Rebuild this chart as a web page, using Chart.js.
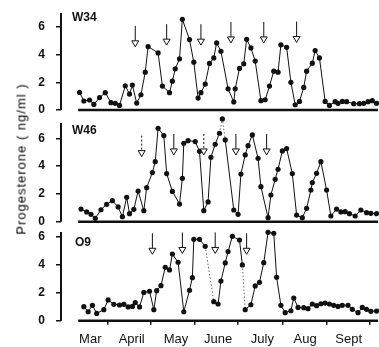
<!DOCTYPE html>
<html>
<head>
<meta charset="utf-8">
<script src="https://cdn.jsdelivr.net/npm/chart.js@4.4.1/dist/chart.umd.min.js"></script>
<style>
  body { margin: 0; background: #fff; }
  #wrap { position: relative; width: 379px; height: 347px; overflow: hidden; }
  canvas { position: absolute; left: 0; }
  #ytitle {
    position: absolute; left: 21px; top: 159px;
    transform: translate(-50%, -50%) rotate(-90deg);
    font: 13px 'Liberation Sans', Arial, sans-serif; letter-spacing: 1px;
    white-space: nowrap; color: #000;
  }
</style>
</head>
<body>
<div id="wrap">
  <canvas id="c_w34" width="379" height="114" style="top:0"></canvas>
  <canvas id="c_w46" width="379" height="112" style="top:114px"></canvas>
  <canvas id="c_o9"  width="379" height="121" style="top:226px"></canvas>
  <div id="ytitle">Progesterone ( ng/ml )</div>
</div>
<script>
// ── datos (x = días desde 1 de marzo) ─────────────────
const W34_DAY = [11,14,18,21,25,29,33,36,39,43,46,48,51,54,57,59,66,69,74,76,78,81,83,88,91,94,96,99,102,105,107,110,115,119,120,123,126,128,131,134,138,141,144,147,150,152,156,159,162,165,168,170,174,176,179,183,186,190,192,195,198,203,207,210,213,216,219];
const W34_P4  = [1.27,0.65,0.72,0.4,0.9,1.25,0.53,0.48,0.33,1.75,1.15,1.8,0.5,1.1,2.73,4.58,4.12,1.73,1.25,2.08,2.97,3.69,6.55,5.08,3.45,0.86,1.25,1.87,3.36,3.76,4.84,4.24,1.53,0.58,1.53,3.0,3.33,5.1,4.48,3.53,0.67,0.74,1.73,2.8,2.73,4.7,4.53,2.0,0.38,0.62,1.63,2.8,3.38,4.29,3.76,0.62,0.33,0.6,0.48,0.62,0.6,0.46,0.46,0.48,0.6,0.67,0.48];
const W34_ARROW_DAY = [50,72,96,117,140,163];
const W34_ARROW_TIP = [4.56,4.68,4.68,4.84,4.84,4.87];

const W46_DAY = [12,16,19,22,26,30,34,38,41,44,46,49,52,56,58,62,64,66,70,72,76,81,83,84,87,92,95,98,101,103,106,109,111,113,119,122,124,127,129,132,136,138,143,145,148,150,153,156,160,163,167,170,173,174,177,180,184,187,191,194,197,200,204,208,212,215,219];
const W46_P4  = [0.91,0.7,0.53,0.24,0.86,1.25,1.51,1.06,0.36,1.75,0.58,0.89,2.2,0.79,2.45,3.53,4.32,6.72,6.19,3.46,2.18,1.27,3.12,5.64,5.83,5.76,5.06,0.79,1.42,4.63,5.57,6.36,7.39,5.88,0.84,0.53,3.43,4.8,5.47,6.24,4.56,2.52,0.29,1.92,3.05,3.77,5.09,5.26,3.46,0.48,0.29,0.96,2.28,2.81,3.48,4.32,2.28,0.41,0.91,0.7,0.72,0.58,0.41,0.84,0.65,0.6,0.58];
const W46_DASHED = [31,32];
const W46_ARROW_DAY = [54.5,77,98,120.5,142];
const W46_ARROW_TIP = [4.68,4.8,4.8,4.8,4.8];
const W46_ARROW_DOTTED = [0,2];

const O9_DAY = [14,17,20,23,28,31,35,39,42,45,48,50,53,56,60,63,65,68,71,74,76,80,84,88,90,91,95,99,105,108,110,113,115,118,123,125,127,131,134,137,140,143,147,149,152,155,159,161,164,168,171,174,177,180,183,186,189,192,195,199,202,206,209,212,215,219];
const O9_P4  = [1.0,0.64,1.1,0.52,0.79,1.48,1.17,1.12,1.17,0.98,1.02,1.29,0.98,2.02,2.1,0.79,2.14,2.5,3.81,3.62,4.76,4.17,0.64,2.17,3.07,5.81,5.81,5.31,1.36,1.19,2.83,4.12,4.93,6.02,5.76,3.98,0.79,1.14,2.48,2.74,4.14,6.31,6.24,3.1,1.1,0.57,0.71,1.62,0.95,0.93,0.86,1.19,1.07,1.21,1.26,1.19,1.1,1.02,1.1,1.1,0.81,0.57,0.95,0.81,0.67,0.69];
const O9_DASHED = [27,35];
const O9_ARROW_DAY = [62,83,106,128];
const O9_ARROW_TIP = [4.74,4.8,4.8,4.74];

const MONTHS      = ['Mar','April','May','June','July','Aug','Sept'];
const MONTH_MIDS  = [18.5,47.5,78.5,108,139,169,199.5];
const MONTH_EDGES = [31,61,92,122,153,184,214];
const Y_TICKS     = [0,2,4,6];

const INK = '#111';
const FONT = "'Liberation Sans', Arial, sans-serif";
const AXIS_START = 10;   // la línea base empieza un poco a la derecha del eje y

// ── plugins ──────────────────────────────────────────
// ejes dibujados a mano: el eje y hasta axisTop, la base desde AXIS_START
const axes = {
  id: 'axes',
  beforeDatasetsDraw(chart, args, o) {
    const {ctx, chartArea, scales: {x, y}} = chart;
    const y0 = y.getPixelForValue(0);
    ctx.save();
    ctx.strokeStyle = INK;
    ctx.lineWidth = 2;
    ctx.beginPath();
    ctx.moveTo(chartArea.left, y0);
    ctx.lineTo(chartArea.left, y.getPixelForValue(o.top));
    ctx.stroke();
    ctx.lineWidth = 2.5;
    ctx.beginPath();
    ctx.moveTo(x.getPixelForValue(AXIS_START), y0);
    ctx.lineTo(chartArea.right, y0);
    ctx.stroke();
    ctx.restore();
  },
};

const arrows = {
  id: 'arrows',
  afterDatasetsDraw(chart, args, o) {
    const {ctx, scales: {x, y}} = chart;
    ctx.save();
    ctx.strokeStyle = INK;
    ctx.lineWidth = 1;
    o.days.forEach((d, i) => {
      const px = x.getPixelForValue(d);
      const tip = y.getPixelForValue(o.tips[i]);
      const head = tip - 6;
      ctx.setLineDash((o.dotted || []).includes(i) ? [2, 2] : []);
      ctx.beginPath();
      ctx.moveTo(px, head - 15);
      ctx.lineTo(px, head);
      ctx.stroke();
      ctx.setLineDash([]);
      ctx.beginPath();
      ctx.moveTo(px - 3.5, head);
      ctx.lineTo(px + 3.5, head);
      ctx.lineTo(px, tip);
      ctx.closePath();
      ctx.fillStyle = '#fff';
      ctx.fill();
      ctx.stroke();
    });
    ctx.restore();
  },
};

const tag = {
  id: 'tag',
  afterDraw(chart, args, o) {
    const {ctx, chartArea} = chart;
    ctx.save();
    ctx.fillStyle = INK;
    ctx.font = 'bold 12px ' + FONT;
    ctx.textBaseline = 'top';
    ctx.fillText(o.text, chartArea.left + o.dx, chart.scales.y.getPixelForValue(o.top) + o.dy);
    ctx.restore();
  },
};

// ── un panel ─────────────────────────────────────────
function _panel(canvasId, cfg) {
  const showX = !!cfg.showX;
  return new Chart(document.getElementById(canvasId), {
    type: 'line',
    data: {
      datasets: [{
        data: cfg.days.map((d, i) => ({x: d, y: cfg.vals[i]})),
        borderColor: INK,
        borderWidth: 1,
        pointRadius: 2.6,
        pointBackgroundColor: INK,
        pointBorderWidth: 0,
        tension: 0,
        clip: false,
        segment: {
          borderDash: c => (cfg.dashed || []).includes(c.p0DataIndex) ? [1.5, 2] : undefined,
          borderColor: c => (cfg.dashed || []).includes(c.p0DataIndex) ? '#666' : undefined,
        },
      }],
    },
    options: {
      responsive: false,
      animation: false,
      devicePixelRatio: 1,
      layout: {autoPadding: false, padding: {top: cfg.padTop, bottom: cfg.padBottom, right: 1, left: 0}},
      plugins: {
        legend: {display: false},
        tooltip: {enabled: false},
        axes: {top: cfg.axisTop},
        arrows: {days: cfg.arrowDays, tips: cfg.arrowTips, dotted: cfg.arrowDotted},
        tag: {text: cfg.label, dx: cfg.labelDx, dy: cfg.labelDy, top: cfg.axisTop},
      },
      scales: {
        x: {
          type: 'linear',
          min: -2, max: 220,
          display: showX,
          afterFit: s => { s.height = showX ? 26 : 0; s.paddingLeft = s.paddingRight = 0; },
          afterBuildTicks: s => {
            s.ticks = [...MONTH_EDGES, ...MONTH_MIDS].sort((a, b) => a - b).map(v => ({value: v}));
          },
          border: {display: false},
          grid: {
            drawOnChartArea: false,
            tickLength: 4,
            lineWidth: 1.5,
            tickColor: c => MONTH_EDGES.includes(c.tick && c.tick.value) ? INK : 'rgba(0,0,0,0)',
          },
          ticks: {
            autoSkip: false, maxRotation: 0, padding: 7,
            color: INK, font: {family: FONT, size: 13},
            callback: v => { const i = MONTH_MIDS.indexOf(v); return i >= 0 ? MONTHS[i] : ''; },
          },
        },
        y: {
          min: 0, max: cfg.yMax,
          afterFit: s => { s.width = 61; s.paddingTop = s.paddingBottom = 0; },
          afterBuildTicks: s => { s.ticks = Y_TICKS.map(v => ({value: v})); },
          border: {display: false},
          grid: {drawOnChartArea: false, tickLength: 5, color: INK, lineWidth: 1.5},
          ticks: {padding: 11, color: INK, font: {family: FONT, size: 12, weight: 'bold'}},
        },
      },
    },
    plugins: [axes, arrows, tag],
  });
}

_panel('c_w34', {
  days: W34_DAY, vals: W34_P4, yMax: 7, axisTop: 7, padTop: 13, padBottom: 4,
  arrowDays: W34_ARROW_DAY, arrowTips: W34_ARROW_TIP,
  label: 'W34', labelDx: 11, labelDy: -1,
});

_panel('c_w46', {
  days: W46_DAY, vals: W46_P4, dashed: W46_DASHED, yMax: 7.45, axisTop: 7.1, padTop: 4.1, padBottom: 4.3,
  arrowDays: W46_ARROW_DAY, arrowTips: W46_ARROW_TIP, arrowDotted: W46_ARROW_DOTTED,
  label: 'W46', labelDx: 11, labelDy: 2,
});

_panel('c_o9', {
  days: O9_DAY, vals: O9_P4, dashed: O9_DASHED, yMax: 6.33, axisTop: 6.33, padTop: 6, padBottom: 0.3, showX: true,
  arrowDays: O9_ARROW_DAY, arrowTips: O9_ARROW_TIP,
  label: 'O9', labelDx: 14, labelDy: 5,
});
</script>
</body>
</html>
